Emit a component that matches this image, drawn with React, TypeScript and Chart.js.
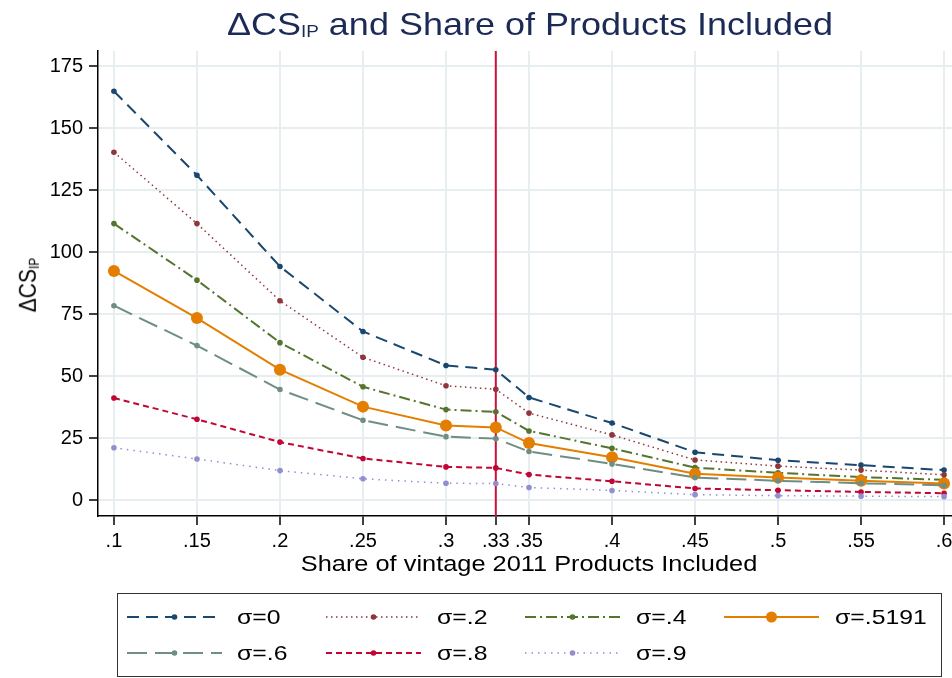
import React, { useEffect, useRef } from "react";
import { Chart, registerables } from "chart.js";

Chart.register(...registerables);

// ---------------- data ----------------
const xValues = [0.1, 0.15, 0.2, 0.25, 0.3, 0.33, 0.35, 0.4, 0.45, 0.5, 0.55, 0.6];

const sigma0 = [165.0, 131.1, 94.3, 68.1, 54.4, 52.7, 41.5, 31.2, 19.4, 16.2, 14.2, 12.2];
const sigma02 = [140.4, 111.6, 80.5, 57.7, 46.2, 44.8, 35.2, 26.4, 16.3, 13.8, 12.2, 10.3];
const sigma04 = [111.6, 88.8, 63.6, 45.8, 36.6, 35.7, 28.0, 21.0, 13.2, 11.1, 9.4, 8.3];
const sigma05191 = [92.5, 73.5, 52.7, 37.8, 30.2, 29.4, 23.1, 17.4, 10.7, 9.2, 7.9, 6.8];
const sigma06 = [78.5, 62.4, 44.7, 32.3, 25.7, 24.9, 19.7, 14.7, 9.2, 7.9, 6.9, 6.1];
const sigma08 = [41.3, 32.7, 23.5, 16.9, 13.5, 13.1, 10.4, 7.7, 4.8, 4.1, 3.4, 2.9];
const sigma09 = [21.2, 16.7, 12.0, 8.7, 6.9, 6.8, 5.2, 4.0, 2.3, 1.9, 1.7, 1.5];

const seriesLabels = ["σ=0", "σ=.2", "σ=.4", "σ=.5191", "σ=.6", "σ=.8", "σ=.9"];
const seriesValues = [sigma0, sigma02, sigma04, sigma05191, sigma06, sigma08, sigma09];

const xTicks = [0.1, 0.15, 0.2, 0.25, 0.3, 0.33, 0.35, 0.4, 0.45, 0.5, 0.55, 0.6];
const xTickLabels = [".1", ".15", ".2", ".25", ".3", ".33", ".35", ".4", ".45", ".5", ".55", ".6"];
const yTicks = [0, 25, 50, 75, 100, 125, 150, 175];
const cutoffX = 0.33;

const xMin = 0.0904;
const xMax = 0.6096;
const yMin = -6.3;
const yMax = 181.2;

// ---------------- styles ----------------
const seriesStyles = [
  { color: "#1a476f", dash: [12, 7], width: 2, radius: 2.8 },
  { color: "#90353b", dash: [1.5, 3.5], width: 1.5, radius: 2.8 },
  { color: "#55752f", dash: [11, 4, 2, 4], width: 2, radius: 2.8 },
  { color: "#e37e00", dash: [] as number[], width: 2, radius: 6 },
  { color: "#6e8e84", dash: [20, 8], width: 2, radius: 2.8 },
  { color: "#c10534", dash: [6, 4], width: 2, radius: 2.8 },
  { color: "#938dd2", dash: [1.5, 5], width: 1.5, radius: 2.8 },
];

const FONT = "'Liberation Sans', Arial, Helvetica, sans-serif";
const GRID = "#e6eeef";
const STRETCH = 1.18;

const cutoffLinePlugin = {
  id: "cutoffLine",
  beforeDatasetsDraw(chart: any) {
    const { ctx, chartArea, scales } = chart;
    const x = scales.x.getPixelForValue(cutoffX);
    ctx.save();
    ctx.strokeStyle = "#d0103c";
    ctx.lineWidth = 2;
    ctx.beginPath();
    ctx.moveTo(x, chartArea.top);
    ctx.lineTo(x, chartArea.bottom);
    ctx.stroke();
    ctx.restore();
  },
};

const legendCols = [126.7, 326, 525.3, 724.3];
const legendRows = [616.7, 652.7];

function LegendSample({ i }: { i: number }) {
  const s = seriesStyles[i];
  const r = i === 3 ? 5.5 : 2.8;
  return (
    <svg width={95} height={16} style={{ display: "block" }}>
      <line
        x1={0}
        y1={8}
        x2={95}
        y2={8}
        stroke={s.color}
        strokeWidth={s.width}
        strokeDasharray={s.dash.length ? s.dash.join(" ") : undefined}
      />
      <circle cx={47.5} cy={8} r={r} fill={s.color} />
    </svg>
  );
}

export default function App() {
  const canvasRef = useRef<HTMLCanvasElement | null>(null);

  useEffect(() => {
    if (!canvasRef.current) return;
    const datasets = seriesValues.map((vals, i) => {
      const s = seriesStyles[i];
      return {
        label: seriesLabels[i],
        data: xValues.map((x, j) => ({ x, y: vals[j] })),
        borderColor: s.color,
        backgroundColor: s.color,
        borderWidth: s.width,
        borderDash: s.dash,
        pointRadius: s.radius,
        pointBorderWidth: 0,
        pointBackgroundColor: s.color,
        pointHoverRadius: s.radius,
        tension: 0,
        fill: false,
        order: seriesValues.length - i,
      };
    });

    const chart = new Chart(canvasRef.current, {
      type: "line",
      data: { datasets },
      options: {
        responsive: false,
        animation: false,
        devicePixelRatio: 1,
        layout: { padding: { top: 51, right: 20, left: 0, bottom: 0 } },
        plugins: {
          legend: { display: false },
          title: { display: false },
          tooltip: { enabled: false },
        },
        scales: {
          x: {
            type: "linear",
            min: xMin,
            max: xMax,
            afterBuildTicks: (scale: any) => {
              scale.ticks = xTicks.map((v) => ({ value: v }));
            },
            afterFit: (scale: any) => {
              scale.height = 162;
            },
            ticks: {
              autoSkip: false,
              maxRotation: 0,
              color: "#000",
              font: { family: FONT, size: 20 },
              padding: 4,
              callback: (v: any) => {
                const k = xTicks.findIndex((t) => Math.abs(t - Number(v)) < 1e-9);
                return k >= 0 ? xTickLabels[k] : "";
              },
            },
            grid: {
              color: GRID,
              lineWidth: 2,
              tickColor: "#000",
              tickWidth: 1.5,
              tickLength: 9,
              drawTicks: true,
            },
            border: { display: true, color: "#000", width: 1.5 },
          },
          y: {
            type: "linear",
            min: yMin,
            max: yMax,
            afterBuildTicks: (scale: any) => {
              scale.ticks = yTicks.map((v) => ({ value: v }));
            },
            afterFit: (scale: any) => {
              scale.width = 98;
            },
            ticks: {
              color: "#000",
              font: { family: FONT, size: 20 },
              padding: 6,
              callback: (v: any) => String(v),
            },
            grid: {
              color: GRID,
              lineWidth: 2,
              tickColor: "#000",
              tickWidth: 1.5,
              tickLength: 9,
              drawTicks: true,
            },
            border: { display: true, color: "#000", width: 1.5 },
          },
        },
      },
      plugins: [cutoffLinePlugin],
    });
    return () => chart.destroy();
  }, []);

  const textBase: React.CSSProperties = {
    position: "absolute",
    whiteSpace: "nowrap",
    fontFamily: FONT,
    lineHeight: 1,
    margin: 0,
  };

  return (
    <div
      style={{
        position: "absolute",
        left: 0,
        top: 0,
        width: 952,
        height: 678,
        overflow: "hidden",
        background: "#fff",
      }}
    >
      <canvas
        ref={canvasRef}
        width={980}
        height={678}
        style={{ position: "absolute", left: 0, top: 0, width: 980, height: 678 }}
      />
      {/* Title */}
      <div
        style={{
          ...textBase,
          left: 530,
          top: 9.2,
          fontSize: 30.5,
          color: "#1c2b56",
          transform: `translateX(-50%) scaleX(${STRETCH})`,
        }}
      >
        ΔCS<span style={{ fontSize: 16, verticalAlign: "-2px" }}>IP</span> and Share of Products Included
      </div>
      {/* Y-axis title */}
      <div
        style={{
          ...textBase,
          left: 27.5,
          top: 285,
          fontSize: 21,
          color: "#000",
          transform: `translate(-50%, -50%) scaleX(${STRETCH}) rotate(-90deg)`,
        }}
      >
        ΔCS<span style={{ fontSize: 12, verticalAlign: "-2px" }}>IP</span>
      </div>
      {/* X-axis title */}
      <div
        style={{
          ...textBase,
          left: 529,
          top: 553.8,
          fontSize: 21.5,
          color: "#000",
          transform: `translateX(-50%) scaleX(${STRETCH})`,
        }}
      >
        Share of vintage 2011 Products Included
      </div>
      {/* Legend */}
      <div
        style={{
          position: "absolute",
          left: 117,
          top: 593,
          width: 825,
          height: 84,
          boxSizing: "border-box",
          border: "1.5px solid #333",
        }}
      />
      {seriesLabels.map((lab, i) => {
        const col = i < 4 ? i : i - 4;
        const row = i < 4 ? 0 : 1;
        const x = legendCols[col];
        const y = legendRows[row];
        return (
          <React.Fragment key={lab}>
            <div style={{ position: "absolute", left: x, top: y - 8 }}>
              <LegendSample i={i} />
            </div>
            <div
              style={{
                ...textBase,
                left: x + 110.6,
                top: y - 10.3,
                fontSize: 21,
                color: "#000",
                transformOrigin: "left center",
                transform: `scaleX(${STRETCH})`,
              }}
            >
              {lab}
            </div>
          </React.Fragment>
        );
      })}
    </div>
  );
}
